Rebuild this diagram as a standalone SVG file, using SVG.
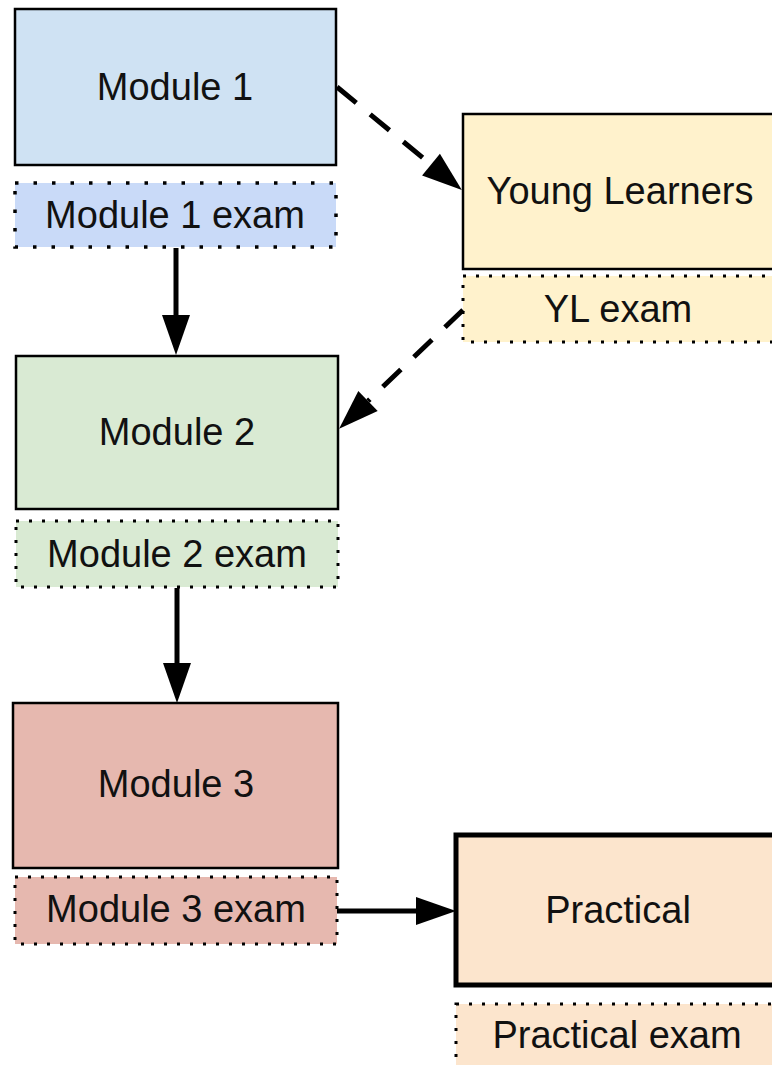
<svg xmlns="http://www.w3.org/2000/svg" width="772" height="1065" viewBox="0 0 772 1065">
<style>
.box{stroke:#000;stroke-width:2.5}
.thick{stroke:#000;stroke-width:5}
.exam{stroke:#000;stroke-width:3;stroke-dasharray:3 10}
.exam1{stroke:#000;stroke-width:3.5;stroke-dasharray:3.5 15}
.lbl{font-family:"Liberation Sans",Arial,sans-serif;font-size:38px;fill:#111;text-anchor:middle}
.solid{stroke:#000;stroke-width:5;fill:none}
.dash{stroke:#000;stroke-width:5;fill:none;stroke-dasharray:25 18}
</style>
<defs>
<marker id="ah" markerUnits="userSpaceOnUse" markerWidth="42" markerHeight="30" refX="0" refY="14" orient="auto" overflow="visible">
<path d="M0,0 L40,14 L0,28 z" fill="#000"/>
</marker>
</defs>
<rect width="772" height="1065" fill="#fff"/>
<g id="module1">
<rect class="box" x="15" y="9" width="321" height="156" fill="#cfe2f3"/>
<text class="lbl" x="175" y="100">Module 1</text>
</g>
<g id="module1-exam">
<rect class="exam1" x="15" y="183" width="321" height="64" fill="#c9daf8"/>
<text class="lbl" x="175" y="228">Module 1 exam</text>
</g>
<g id="young-learners">
<rect class="box" x="463" y="114" width="330" height="155" fill="#fff2cc"/>
<text class="lbl" x="620" y="204">Young Learners</text>
</g>
<g id="yl-exam">
<rect class="exam" x="463" y="276" width="330" height="66" fill="#fff2cc"/>
<text class="lbl" x="618" y="322">YL exam</text>
</g>
<g id="module2">
<rect class="box" x="16" y="356" width="322" height="153" fill="#d9ead3"/>
<text class="lbl" x="177" y="445">Module 2</text>
</g>
<g id="module2-exam">
<rect class="exam" x="16" y="521" width="322" height="66" fill="#d9ead3"/>
<text class="lbl" x="177" y="567">Module 2 exam</text>
</g>
<g id="module3">
<rect class="box" x="13" y="703" width="325" height="165" fill="#e6b8af"/>
<text class="lbl" x="176" y="797">Module 3</text>
</g>
<g id="module3-exam">
<rect class="exam" x="15" y="877" width="322" height="67" fill="#e6b8af"/>
<text class="lbl" x="176" y="922">Module 3 exam</text>
</g>
<g id="practical">
<rect class="thick" x="456" y="835" width="330" height="150" fill="#fce5cd"/>
<text class="lbl" x="618" y="923">Practical</text>
</g>
<g id="practical-exam">
<rect class="exam" x="456" y="1004" width="330" height="80" fill="#fce5cd"/>
<text class="lbl" x="617" y="1048">Practical exam</text>
</g>
<g id="connectors">
<line class="solid" x1="176" y1="248" x2="176" y2="315" marker-end="url(#ah)"/>
<line class="solid" x1="177" y1="588" x2="177" y2="663" marker-end="url(#ah)"/>
<line class="solid" x1="337" y1="911" x2="416" y2="911" marker-end="url(#ah)"/>
<line class="dash" x1="337" y1="87" x2="431" y2="164.6" marker-end="url(#ah)"/>
<line class="dash" x1="463" y1="310" x2="368" y2="401" marker-end="url(#ah)"/>
</g>
</svg>
